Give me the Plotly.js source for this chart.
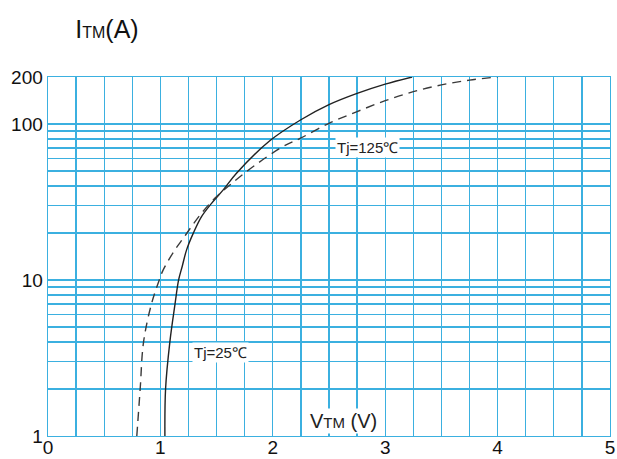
<!DOCTYPE html>
<html>
<head>
<meta charset="utf-8">
<script src="https://cdn.plot.ly/plotly-3.0.1.min.js"></script>
<style>
  html, body { margin: 0; padding: 0; background: #fff; }
  #chart { width: 617px; height: 459px; }
</style>
</head>
<body>
<div id="chart"></div>
<script>
// On-state voltage vs current
const vtm25 = [1.04, 1.046, 1.084, 1.13, 1.162, 1.195, 1.233, 1.292, 1.366, 1.455, 1.559, 1.677, 1.973, 2.246, 2.5, 2.75, 3.0, 3.24];
const itm25 = [1, 2, 4, 7, 10, 12.3, 15.6, 19.9, 25.5, 31, 37.8, 48.3, 78, 106, 133, 157, 180, 200];

const vtm125 = [0.79, 0.82, 0.85, 0.92, 0.99, 1.025, 1.129, 1.203, 1.277, 1.366, 1.484, 1.618, 1.82, 2.09, 2.246, 2.5, 2.75, 3.0, 3.25, 3.5, 3.75, 4.0];
const itm125 = [1, 2, 4, 7, 10, 11.6, 15.6, 18.5, 22, 26.8, 33.4, 40.6, 53, 71.6, 81, 101, 120, 141, 161, 178, 191, 200];

// grid every 0.25 V, labels only on whole volts
const xGrid = [0, 0.25, 0.5, 0.75, 1, 1.25, 1.5, 1.75, 2, 2.25, 2.5, 2.75, 3, 3.25, 3.5, 3.75, 4, 4.25, 4.5, 4.75, 5];
const xLabels = ["0", "", "", "", "1", "", "", "", "2", "", "", "", "3", "", "", "", "4", "", "", "", "5"];

const yGrid = [1, 2, 3, 4, 5, 6, 7, 8, 9, 10, 20, 30, 40, 50, 60, 70, 80, 90, 100, 200];
const yLabels = ["1", "", "", "", "", "", "", "", "", "10", "", "", "", "", "", "", "", "", "100", "200"];

const GRID = "#3bb0e0";
const FONT = "Liberation Sans, Arial, sans-serif";

const traces = [
  {
    x: vtm25,
    y: itm25,
    type: "scatter",
    mode: "lines",
    name: "Tj=25℃",
    line: { color: "#222", width: 1.4, shape: "spline", smoothing: 1 },
  },
  {
    x: vtm125,
    y: itm125,
    type: "scatter",
    mode: "lines",
    name: "Tj=125℃",
    line: { color: "#3a3a3a", width: 1.4, dash: "9px,6px", shape: "spline", smoothing: 1 },
  },
];

const layout = {
  width: 617,
  height: 459,
  margin: { l: 48, r: 7, t: 77, b: 23 },
  paper_bgcolor: "#fff",
  plot_bgcolor: "#fff",
  showlegend: false,
  font: { family: FONT, color: "#111", size: 19 },
  title: {
    text: 'I<span style="font-size:16px">TM</span>(A)',
    font: { family: FONT, size: 25, color: "#111" },
    xref: "container",
    yref: "container",
    x: 107 / 617,
    xanchor: "center",
    y: 1 - 29 / 459,
    yanchor: "middle",
  },
  xaxis: {
    range: [0, 5],
    tickmode: "array",
    tickvals: xGrid,
    ticktext: xLabels,
    ticks: "",
    ticklabelstandoff: -6,
    showgrid: true,
    gridcolor: GRID,
    gridwidth: 1.4,
    zeroline: false,
    showline: true,
    linecolor: GRID,
    linewidth: 1.4,
    mirror: true,
  },
  yaxis: {
    type: "log",
    range: [0, Math.log10(200)],
    tickmode: "array",
    tickvals: yGrid,
    ticktext: yLabels,
    ticks: "",
    showgrid: true,
    gridcolor: GRID,
    gridwidth: 1.4,
    zeroline: false,
    showline: true,
    linecolor: GRID,
    linewidth: 1.4,
    mirror: true,
  },
  annotations: [
    {
      x: 2.84, y: Math.log10(70.2), xref: "x", yref: "y",
      text: "Tj=125℃", showarrow: false,
      font: { family: FONT, size: 15, color: "#222" },
      bgcolor: "#fff", borderpad: 1,
    },
    {
      x: 1.537, y: Math.log10(3.45), xref: "x", yref: "y",
      text: "Tj=25℃", showarrow: false,
      font: { family: FONT, size: 15, color: "#222" },
      bgcolor: "#fff", borderpad: 1,
    },
    {
      x: 2.63, y: Math.log10(1.25), xref: "x", yref: "y",
      text: 'V<span style="font-size:15px">TM</span> (V)', showarrow: false,
      font: { family: FONT, size: 20, color: "#222" },
      bgcolor: "#fff", borderpad: 1,
    },
  ],
};

Plotly.newPlot("chart", traces, layout, { displayModeBar: false, staticPlot: true });
</script>
</body>
</html>
